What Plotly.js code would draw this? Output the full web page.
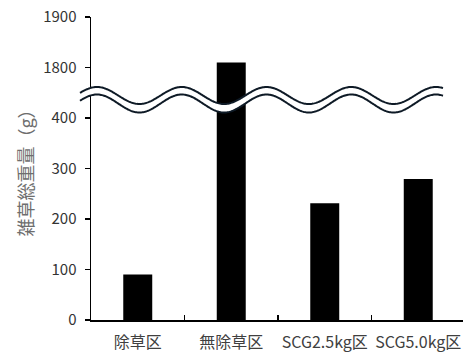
<!DOCTYPE html>
<html>
<head>
<meta charset="utf-8">
<script src="https://cdn.plot.ly/plotly-3.0.1.min.js"></script>
<style>
  html, body { margin: 0; padding: 0; background: #fff; overflow: hidden; }
  #chart { width: 465px; height: 352px; }
</style>
</head>
<body>
<div id="chart"></div>
<script>
// Weed weight per plot (g)
const categories = ['除草区', '無除草区', 'SCG2.5kg区', 'SCG5.0kg区'];
const weights = [90, 1810, 231, 279];

// Broken axis: 0–400 shown as is, 1800–1900 shown right above it
const tickValues = [0, 100, 200, 300, 400, 1800, 1900];
const tickLabels = ['0', '100', '200', '300', '400', '1800', '1900'];

const BREAK_LOW = 400, BREAK_HIGH = 1800, GAP = 100;
function toAxis(v) {
  return v <= BREAK_LOW ? v : v - (BREAK_HIGH - BREAK_LOW) + GAP;
}

// Geometry of the plot area (px), used for the wavy break marks
const W = 465, H = 352;
const M = { l: 91, r: 0, t: 17, b: 32 };
const plotW = W - M.l - M.r, plotH = H - M.t - M.b;
const px = x => (x - M.l) / plotW;
const py = y => (H - M.b - y) / plotH;

function wave(center, amp, x0, x1) {
  const pts = [];
  const period = 84.75, phase0 = 97;
  for (let x = x0; x <= x1 + 0.01; x += 1) {
    const y = center - amp * Math.cos(2 * Math.PI * (x - phase0) / period);
    pts.push([px(x), py(y)]);
  }
  return pts;
}
const upper = wave(95.5, 8.5, 80, 443);
const lower = wave(103.5, 9, 80, 443);
const toPath = pts => pts.map((p, i) => (i ? 'L' : 'M') + p[0].toFixed(5) + ',' + p[1].toFixed(5)).join(' ');
const fillPath = toPath(upper) + ' ' + toPath(lower.slice().reverse()).replace(/^M/, 'L') + ' Z';

const ink = '#0e1a26';
const shapes = [
  { type: 'path', xref: 'paper', yref: 'paper', path: fillPath, fillcolor: '#ffffff', line: { width: 0 }, layer: 'above' },
  { type: 'path', xref: 'paper', yref: 'paper', path: toPath(upper), line: { color: ink, width: 2 }, layer: 'above' },
  { type: 'path', xref: 'paper', yref: 'paper', path: toPath(lower), line: { color: ink, width: 2 }, layer: 'above' }
];

const font = '"Noto Sans CJK JP", "Noto Sans", sans-serif';

const trace = {
  type: 'bar',
  x: categories,
  y: weights.map(toAxis),
  marker: { color: '#000000', line: { width: 0 } },
  width: 0.31,
  hoverinfo: 'skip'
};

const layout = {
  width: W, height: H,
  margin: M,
  paper_bgcolor: '#ffffff',
  plot_bgcolor: '#ffffff',
  showlegend: false,
  font: { family: font, size: 15, color: '#333333' },
  xaxis: {
    type: 'category',
    range: [-0.5, 3.5],
    showline: true, linecolor: '#000000', linewidth: 1.5,
    ticks: 'inside', tickson: 'boundaries', ticklen: 5, tickcolor: '#000000', tickwidth: 1.5,
    tickangle: 0,
    ticklabelstandoff: 7,
    showgrid: false, zeroline: false,
    tickfont: { family: font, size: 16, color: '#404040' }
  },
  yaxis: {
    range: [0, 600],
    showline: true, linecolor: '#000000', linewidth: 1.5,
    ticks: 'outside', ticklen: 5, tickcolor: '#000000', tickwidth: 1.5,
    ticklabelstandoff: 5,
    tickvals: tickValues.map(toAxis),
    ticktext: tickLabels,
    showgrid: false, zeroline: false,
    tickfont: { family: font, size: 15, color: '#333333' },
    title: { text: '雑草総重量（g）', font: { family: font, size: 18, color: '#6e6e6e' }, standoff: 5 }
  },
  shapes: shapes
};

Plotly.newPlot('chart', [trace], layout, { displayModeBar: false, staticPlot: true });
</script>
</body>
</html>
